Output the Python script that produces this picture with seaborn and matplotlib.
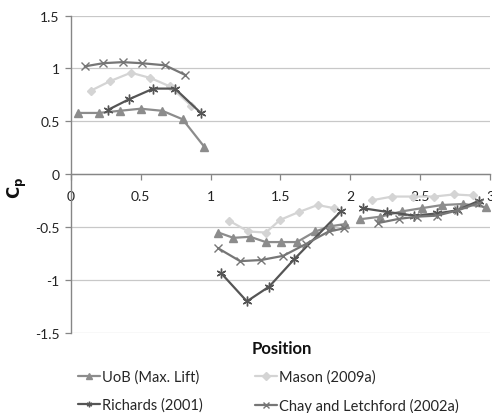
import numpy as np
import pandas as pd
import matplotlib
matplotlib.use('Agg')
import matplotlib.pyplot as plt
import seaborn as sns
from matplotlib.ticker import FuncFormatter

# data, one list per segment (roof / walls)
uob_x = [[0.05, 0.20, 0.35, 0.50, 0.655, 0.80, 0.955],
         [1.056, 1.163, 1.283, 1.395, 1.505, 1.618, 1.749, 1.862, 1.96],
         [2.067, 2.215, 2.37, 2.51, 2.657, 2.81, 2.97]]
uob_y = [[0.58, 0.58, 0.60, 0.62, 0.60, 0.52, 0.26],
         [-0.55, -0.60, -0.59, -0.64, -0.64, -0.64, -0.54, -0.49, -0.47],
         [-0.425, -0.40, -0.35, -0.32, -0.29, -0.28, -0.31]]

mason_x = [[0.143, 0.28, 0.43, 0.57, 0.71, 0.86],
           [1.135, 1.27, 1.395, 1.498, 1.634, 1.766, 1.885],
           [2.155, 2.30, 2.45, 2.60, 2.74, 2.88]]
mason_y = [[0.79, 0.88, 0.96, 0.91, 0.83, 0.65],
           [-0.44, -0.54, -0.55, -0.43, -0.355, -0.29, -0.32],
           [-0.245, -0.21, -0.21, -0.21, -0.19, -0.20]]

rich_x = [[0.267, 0.418, 0.59, 0.745, 0.93],
          [1.073, 1.26, 1.42, 1.60, 1.933],
          [2.088, 2.263, 2.455, 2.62, 2.765, 2.92]]
rich_y = [[0.61, 0.71, 0.81, 0.81, 0.58],
          [-0.93, -1.20, -1.06, -0.80, -0.35],
          [-0.32, -0.355, -0.39, -0.37, -0.34, -0.25]]

chay_x = [[0.10, 0.232, 0.37, 0.507, 0.674, 0.817],
          [1.056, 1.211, 1.36, 1.52, 1.68, 1.845, 1.957],
          [2.20, 2.35, 2.48, 2.62, 2.77, 2.92]]
chay_y = [[1.02, 1.05, 1.06, 1.05, 1.03, 0.94],
          [-0.70, -0.82, -0.81, -0.77, -0.66, -0.54, -0.51],
          [-0.46, -0.42, -0.40, -0.39, -0.34, -0.27]]

names = ['UoB (Max. Lift)', 'Mason (2009a)', 'Richards (2001)', 'Chay and Letchford (2002a)']
xs = [uob_x, mason_x, rich_x, chay_x]
ys = [uob_y, mason_y, rich_y, chay_y]

rows = []
for name, sx, sy in zip(names, xs, ys):
    for seg in range(len(sx)):
        for a, b in zip(sx[seg], sy[seg]):
            rows.append({'series': name, 'segment': seg, 'Position': a, 'Cp': b})
data = pd.DataFrame(rows)

sns.set_style('white')
plt.rcParams['font.family'] = ['Lato', 'DejaVu Sans']

colors = {names[0]: '#8c8c8c', names[1]: '#d4d4d4', names[2]: '#555555', names[3]: '#767676'}
markers = {names[0]: '^', names[1]: 'D', names[2]: (6, 2, 0), names[3]: 'x'}
msizes = {names[0]: 6, names[1]: 4.5, names[2]: 7, names[3]: 6}

fig = plt.figure(figsize=(4.92, 4.14), dpi=100)
ax = fig.add_axes([0.144, 0.193, 0.852, 0.767])

for n in names:
    sub = data[data['series'] == n]
    sns.lineplot(data=sub, x='Position', y='Cp', units='segment', estimator=None,
                 sort=False, color=colors[n], marker=markers[n], markersize=msizes[n],
                 markeredgecolor=colors[n], markeredgewidth=1.0, linewidth=1.6,
                 ax=ax, legend=False)

ax.set_xlim(0, 3)
ax.set_ylim(-1.5, 1.5)
ax.set_xticks(np.arange(0, 3.01, 0.5))
ax.set_yticks(np.arange(-1.5, 1.51, 0.5))
fmt = FuncFormatter(lambda v, p: '%g' % v)
ax.xaxis.set_major_formatter(fmt)
ax.yaxis.set_major_formatter(fmt)
ax.yaxis.grid(True, color='#c8c8c8', linewidth=0.9)
ax.set_axisbelow(True)

ax.spines['top'].set_visible(False)
ax.spines['right'].set_visible(False)
ax.spines['bottom'].set_position(('data', 0))
for s in ['left', 'bottom']:
    ax.spines[s].set_color('#868686')
    ax.spines[s].set_linewidth(1.0)
ax.tick_params(axis='both', direction='out', length=4, width=0.9, color='#868686',
               labelsize=10, labelcolor='#222222', pad=4)
ax.tick_params(axis='x', pad=7)
ax.tick_params(left=True, bottom=True)

ax.set_xlabel('')
ax.set_ylabel('')
fig.text(0.573, 0.158, 'Position', ha='center', va='center', fontsize=12,
         fontweight='bold', color='#111111')
fig.text(0.036, 0.545, r'$\mathbf{C_p}$', ha='center', va='center', fontsize=12,
         rotation=90, color='#111111')

handles = {}
for n in names:
    h, = ax.plot([], [], color=colors[n], marker=markers[n], linewidth=1.6,
                 markersize=4, markeredgecolor=colors[n])
    handles[n] = h
order = [names[0], names[2], names[1], names[3]]
fig.legend([handles[n] for n in order], order, loc='center left',
           bbox_to_anchor=(0.158, 0.053), ncol=2, frameon=False, fontsize=10.5,
           handlelength=1.5, handletextpad=0.15, columnspacing=3.6,
           labelspacing=0.95, borderaxespad=0, borderpad=0)

fig.savefig('out.png', dpi=100)
